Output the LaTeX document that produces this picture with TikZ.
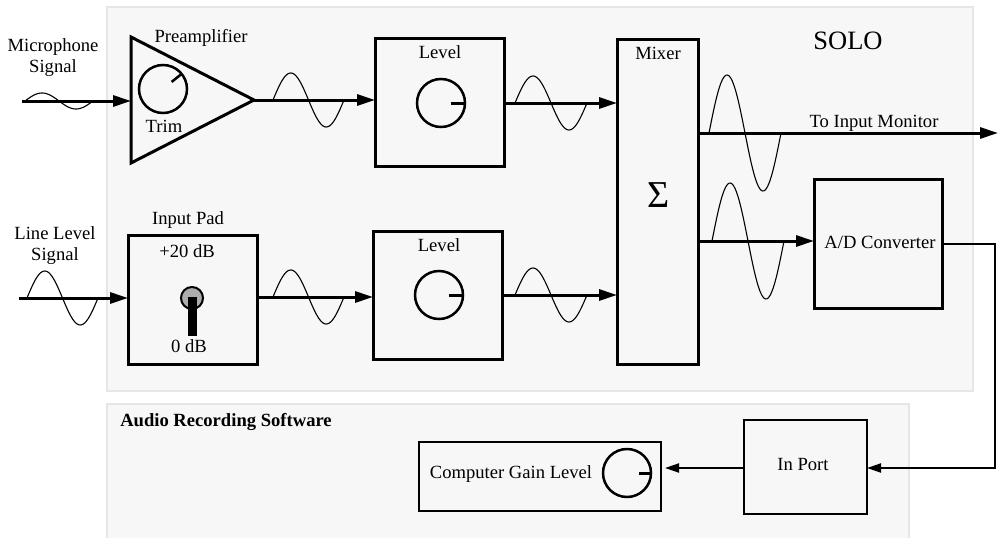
\documentclass[tikz,border=0pt]{standalone}
\usepackage{fontspec}
\setmainfont{Liberation Serif}
\usetikzlibrary{arrows.meta,calc}
\newcommand{\signalwave}[4]{% x0, y0, length, amplitude
  \draw[wavestyle] plot[domain=0:#3,samples=60,smooth] ({#1+\x},{#2-(#4)*sin((360/#3)*\x)});}
\tikzset{
  panel/.style={fill=panelfill,draw=none},
  panelline/.style={draw=panelborder,line width=2pt},
  box/.style={draw=black,line width=3pt,inner sep=0pt,outer sep=0pt,fill=none},
  thinbox/.style={box,line width=2pt},
  knob/.style={circle,draw=black,line width=2.5pt,minimum size=48pt,inner sep=0pt,outer sep=0pt},
  ticker/.style={line width=3pt},
  label/.style={anchor=base,inner sep=0pt,outer sep=0pt,font=\fontsize{18.6}{21}\selectfont},
  sig/.style={line width=3pt,-{Triangle[length=18pt,width=11pt]}},
  sigthin/.style={line width=2pt,-{Triangle[length=14pt,width=9pt]}},
  wavestyle/.style={line width=1.1pt},
}
\definecolor{panelfill}{HTML}{F7F7F7}
\definecolor{panelborder}{HTML}{E6E6E6}
\definecolor{switchgray}{HTML}{ADADAD}
\begin{document}
\begin{tikzpicture}[x=1pt,y=-1pt]
\useasboundingbox (0,0) rectangle (998,538);
% panels
\fill[panel] (107,7) rectangle (973,391);
\draw[panelline] (107,7) rectangle (973,391);
\fill[panel] (107,404) rectangle (909,538);
\draw[panelline] (107,538) -- (107,404) -- (909,404) -- (909,538);
% waves
\signalwave{25}{101}{68}{8}
\signalwave{273}{100}{71}{27}
\signalwave{515}{103}{72}{27}
\signalwave{27}{298}{71}{27}
\signalwave{273}{297}{71}{27}
\signalwave{515}{295}{72}{27}
\signalwave{709}{133}{72}{58}
\signalwave{712}{241}{72}{58}
% preamp
\coordinate (tria) at (131,37);
\coordinate (trib) at (131,163);
\coordinate (tric) at (254,100);
\draw[line width=3pt,line join=miter] (tria) -- (trib) -- (tric) -- cycle;
\node[knob] (trimknob) at (163,89) {};
\draw[ticker,line width=2.5pt] (trimknob.39) -- ++(-10,8);
% boxes
\node[box,minimum width=129pt,minimum height=128pt] (lev1) at (439.5,102) {};
\node[box,minimum width=129pt,minimum height=128pt] (lev2) at (437.5,295) {};
\node[box,minimum width=129pt,minimum height=129pt] (pad) at (192.5,299.5) {};
\node[box,minimum width=81pt,minimum height=325pt] (mixer) at (657.5,201.5) {};
\node[box,minimum width=128pt,minimum height=129pt] (adc) at (878,243.5) {};
\node[thinbox,minimum width=123pt,minimum height=94pt] (inport) at (805.5,467) {};
\node[thinbox,minimum width=242pt,minimum height=69pt] (gain) at (540,476.5) {};
% knobs
\node[knob] (knob1) at (441,103) {};
\draw[ticker] (knob1.east) -- ++(-14,0);
\node[knob] (knob2) at (439,295) {};
\draw[ticker] (knob2.east) -- ++(-14,0);
\node[knob] (knob3) at (627,473) {};
\draw[ticker] (knob3.east) -- ++(-12,0);
% switch
\node[circle,draw=black,line width=2pt,fill=switchgray,minimum size=22pt,inner sep=0pt] (swknob) at (192,298) {};
\node[fill=black,minimum width=9pt,minimum height=39pt,inner sep=0pt,outer sep=0pt,anchor=north] (swbar) at (192.5,297) {};
% free ends
\coordinate (micin) at (22,101);
\coordinate (linein) at (19,298);
\coordinate (monitor) at (998,133);
\coordinate (adcin) at (698,241);
\coordinate (mixa) at (617,103);
\coordinate (mixb) at (617,295);
\coordinate (padout) at (257,297);
\coordinate (turna) at (995,244);
\coordinate (turnb) at (995,468);
% connectors
\draw[sig] (micin) -- (micin -| tria);
\draw[sig] (tric) -- (lev1.west |- tric);
\draw[sig] (lev1.east |- mixa) -- (mixer.west |- mixa);
\draw[sig] (linein) -- (pad.west |- linein);
\draw[sig] (pad.east |- padout) -- (lev2.west |- padout);
\draw[sig] (lev2.east |- mixb) -- (mixer.west |- mixb);
\draw[sig] (mixer.east |- monitor) -- (monitor);
\draw[sig] (mixer.east |- adcin) -- (adc.west |- adcin);
\draw[sigthin] (adc.east |- turna) -- (turna) -- (turnb) -- (inport.east |- turnb);
\draw[sigthin,shorten >=4pt] (inport.west |- turnb) -- (gain.east |- turnb);
% labels
\node[label,align=center,anchor=center] (micl) at (53,58) {Microphone\\Signal};
\node[label,align=center,anchor=center] (linel) at (55,246) {Line Level\\Signal};
\node[label] (prel) at (201,42) {Preamplifier};
\node[label] (triml) at (164,132) {Trim};
\node[label] (lev1l) at (440,58) {Level};
\node[label] (lev2l) at (439,251) {Level};
\node[label] (padl) at (188,224) {Input Pad};
\node[label] (p20) at (187,257) {+20 dB};
\node[label] (z0) at (189,352) {0 dB};
\node[label,font=\fontsize{26.5}{28}\selectfont] (solo) at (848,49) {SOLO};
\node[label] (mixl) at (658,59) {Mixer};
\node[label,font=\fontsize{38}{40}\selectfont] (sigma) at (659,207) {Σ};
\node[label] (monl) at (874,127) {To Input Monitor};
\node[label] (adl) at (880,248) {A/D Converter};
\node[label] (inl) at (803,470) {In Port};
\node[label] (gainl) at (511,478) {Computer Gain Level};
\node[label,font=\fontsize{18.6}{20}\selectfont\bfseries] (audio) at (226,426) {Audio Recording Software};
\end{tikzpicture}
\end{document}
